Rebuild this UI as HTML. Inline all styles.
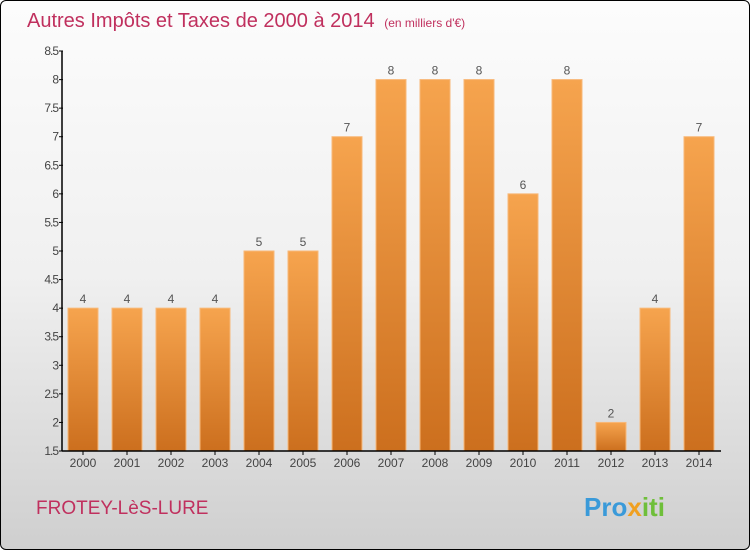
<!DOCTYPE html>
<html><head><meta charset="utf-8"><style>
body{margin:0;}
#wrap{position:relative;width:748px;height:548px;border:1px solid #000;border-radius:6px;overflow:hidden;background:linear-gradient(#fcfcfc,#f0f0f0 50%,#cfcfcf);font-family:"Liberation Sans",sans-serif;}
</style></head><body>
<div id="wrap">
<svg width="748" height="548">
<defs><linearGradient id="bg" x1="0" y1="0" x2="0" y2="1"><stop offset="0" stop-color="#f6a44e"/><stop offset="1" stop-color="#cc6f1e"/></linearGradient></defs>
<text x="26" y="26" font-size="20" fill="#c0305e">Autres Impôts et Taxes de 2000 à 2014 <tspan font-size="12" dx="4">(en milliers d'€)</tspan></text>
<g id="grid"></g><g id="bars"></g><g id="axes"></g>
<text x="35" y="513" font-size="19" fill="#c0305e">FROTEY-LèS-LURE</text>
<text x="583" y="515" font-size="26" font-weight="bold" fill="#3a9ad9">Pro<tspan fill="#f0a020">x</tspan><tspan fill="#6fbf3a">iti</tspan></text>
</svg></div>
<script>
const years=["2000","2001","2002","2003","2004","2005","2006","2007","2008","2009","2010","2011","2012","2013","2014"];
const values=[4,4,4,4,5,5,7,8,8,8,6,8,2,4,7];
const yTicks=[1.5,2,2.5,3,3.5,4,4.5,5,5.5,6,6.5,7,7.5,8,8.5];
const NS="http://www.w3.org/2000/svg";
const y=v=>450-(v-1.5)*400/7;
const x=i=>67+44*i;
function mk(t,a,p){const e=document.createElementNS(NS,t);for(const k in a)e.setAttribute(k,a[k]);p.appendChild(e);return e;}
const bars=document.getElementById('bars'),axes=document.getElementById('axes');
values.forEach((v,i)=>{
 const r=mk('rect',{x:x(i),y:y(v),width:30,height:450-y(v),fill:'url(#bg)',stroke:'#f8b878','stroke-width':1},bars);
 
 
 const t=mk('text',{x:x(i)+15,y:y(v)-5,'font-size':12,fill:'#555','text-anchor':'middle'},bars);t.textContent=v;
 
 
 const l=mk('text',{x:x(i)+15,y:466,'font-size':12,fill:'#444','text-anchor':'middle'},axes);l.textContent=years[i];
 
 
 mk('line',{x1:x(i)+15,x2:x(i)+15,y1:450,y2:454,stroke:'#000'},axes);
});
yTicks.forEach(v=>{
 mk('line',{x1:58,x2:62,y1:y(v),y2:y(v),stroke:'#000'},axes);
 const t=mk('text',{x:57,y:y(v)+4,'font-size':12,fill:'#444','text-anchor':'end','letter-spacing':'-1'},axes);t.textContent=v;
 
 
});
mk('line',{x1:61,x2:61,y1:50,y2:450,stroke:'#000','stroke-width':1.5},axes);
mk('line',{x1:61,x2:720,y1:450,y2:450,stroke:'#000','stroke-width':1.5},axes);
</script>
</body></html>
